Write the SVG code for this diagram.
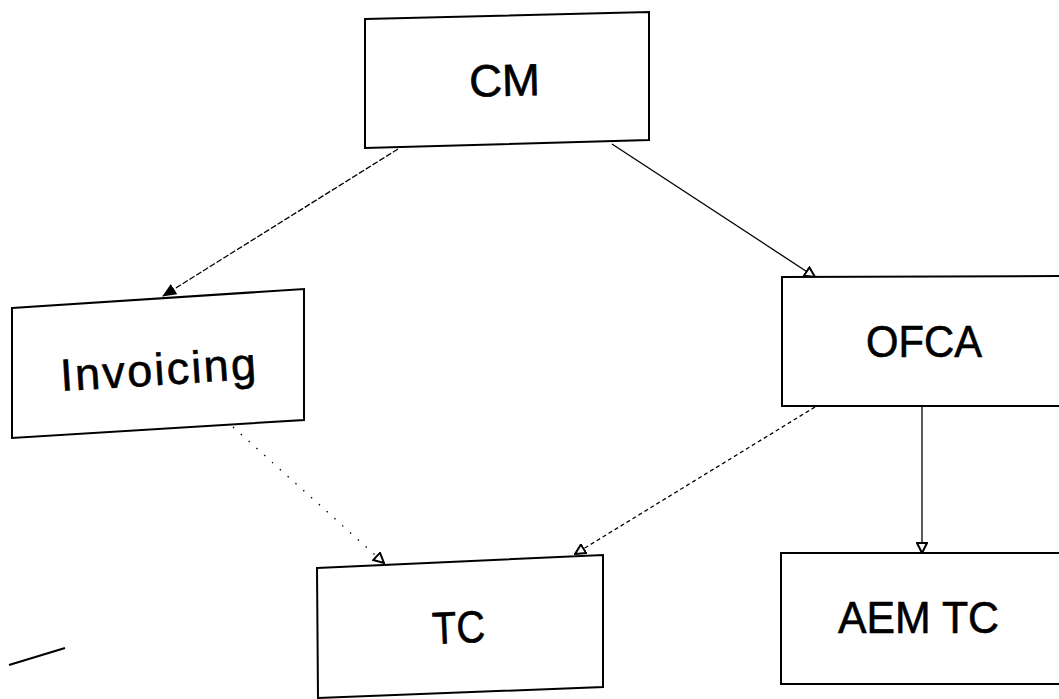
<svg xmlns="http://www.w3.org/2000/svg" width="1059" height="699" viewBox="0 0 1059 699">
<style>
.box{fill:#fff;stroke:#000;stroke-width:2}
.lbl{font-family:"Liberation Sans",Arial,sans-serif;font-size:45px;fill:#000;stroke:#000;stroke-width:0.6}
.c{stroke:#000;stroke-width:1.3;fill:none}
</style>
<defs>
<marker id="fill" markerWidth="14" markerHeight="12" refX="13" refY="6" orient="auto" markerUnits="userSpaceOnUse">
<path d="M0,0 L14,6 L0,12 Z" fill="#000"/>
</marker>
<marker id="open" markerWidth="12" markerHeight="12" refX="11" refY="6" orient="auto" markerUnits="userSpaceOnUse">
<path d="M1,1 L11,6 L1,11 Z" fill="#fff" stroke="#000" stroke-width="2"/>
</marker>
</defs>
<rect width="1059" height="699" fill="#fff"/>
<g id="connectors">
<path class="c" d="M398,149 L163,296" stroke-dasharray="6,2" marker-end="url(#fill)"/>
<path class="c" d="M612,144 L815,277" marker-end="url(#open)"/>
<path class="c" d="M815,407 L575,554" stroke-dasharray="4,3" marker-end="url(#open)"/>
<path class="c" d="M233,427 L384,563" stroke="#bbb" stroke-width="0.8" stroke-dasharray="1.5,9" marker-end="url(#open)"/>
<path class="c" d="M922,407 L922,553" marker-end="url(#open)"/>
<path d="M9,665 L65,648" stroke="#000" stroke-width="2"/>
</g>
<g id="CM">
<polygon class="box" points="365,19 649,12 649,140 365,148"/>
<text class="lbl" x="469" y="96" textLength="71" lengthAdjust="spacingAndGlyphs" transform="rotate(-1.4 505 80)">CM</text>
</g>
<g id="Invoicing">
<polygon class="box" points="12,308 304,289 304,420 12,438"/>
<text class="lbl" x="60" y="385" textLength="196" lengthAdjust="spacing" transform="rotate(-3.6 158 370)">Invoicing</text>
</g>
<g id="OFCA">
<polygon class="box" points="782,277 1075,276 1075,406 782,406"/>
<text class="lbl" x="866" y="357" textLength="116" lengthAdjust="spacingAndGlyphs">OFCA</text>
</g>
<g id="TC">
<polygon class="box" points="317,568 603,555 603,687 318,698"/>
<text class="lbl" x="432" y="643" textLength="53" lengthAdjust="spacingAndGlyphs" transform="rotate(-2.4 458 626)">TC</text>
</g>
<g id="AEMTC">
<polygon class="box" points="781,553 1075,553 1075,684 781,684"/>
<text class="lbl" x="838" y="633" textLength="161" lengthAdjust="spacingAndGlyphs">AEM TC</text>
</g>
</svg>
